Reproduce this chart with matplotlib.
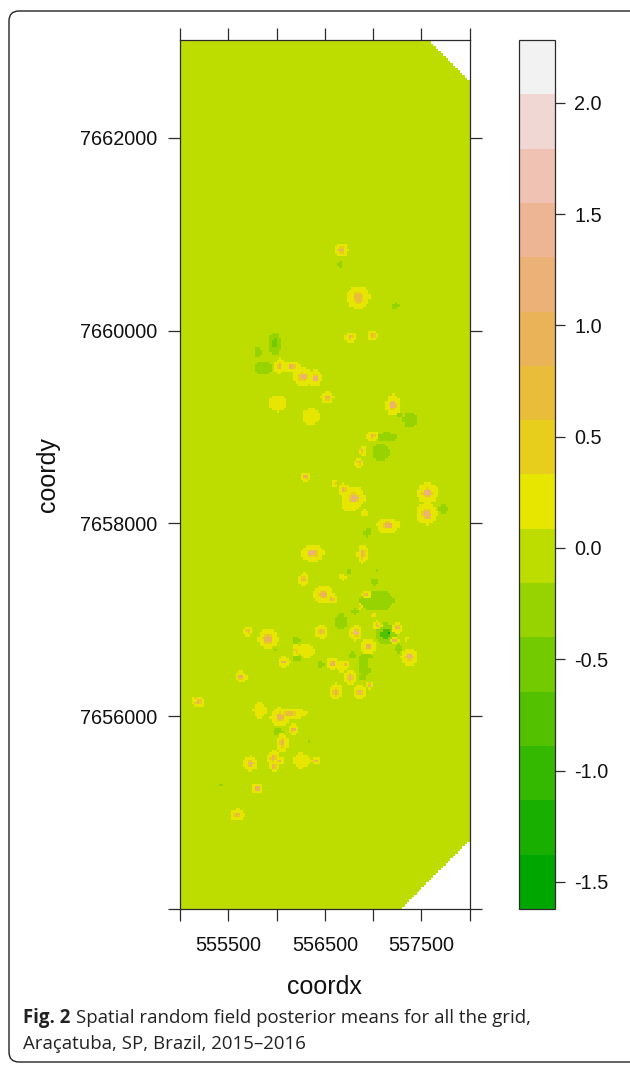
# -*- coding: utf-8 -*-
import numpy as np
import matplotlib
matplotlib.use('Agg')
import matplotlib.pyplot as plt
from matplotlib.colors import ListedColormap, BoundaryNorm
from matplotlib.patches import FancyBboxPatch

#%% ## Datos
x_ticks = [555000, 555500, 556000, 556500, 557000, 557500, 558000]
x_labels = ['', '555500', '', '556500', '', '557500', '']
y_ticks = [7654000, 7656000, 7658000, 7660000, 7662000]
y_labels = ['', '7656000', '7658000', '7660000', '7662000']
bar_ticks = [-1.5, -1.0, -0.5, 0.0, 0.5, 1.0, 1.5, 2.0]

# terrain colours, one for each band of the scale
band_edges = [-1.622, -1.378, -1.134, -0.890, -0.646, -0.402, -0.158, 0.086, 0.330,
              0.574, 0.818, 1.062, 1.306, 1.550, 1.794, 2.038, 2.282]
band_colors = ['#00A600', '#19AF00', '#35B800', '#53C100', '#73CA00', '#97D300', '#BDDC00', '#E6E600',
               '#E7CE1D', '#E9BD3A', '#EAB358', '#ECB176', '#EDB594', '#EFC2B3', '#F1D7D3', '#F2F2F2']

# corners cut off the grid
cut_top = [557578, 7663000, 558000, 7662582]
cut_bottom = [557298, 7654000, 558000, 7654714]

# patches of the field: centre, half widths, peak
blob_x = [556670, 556656, 556846, 557236, 556766, 556994, 555983, 555804, 555862, 556032,
          556156, 556270, 556397, 556014, 556359, 556525, 557208, 557380, 557284, 556991,
          557139, 557080, 556894, 556856, 556304, 556604, 556694, 556801, 556760, 556908,
          557563, 557553, 557726, 557156, 556942, 556373, 556891, 556746, 556680, 556277,
          557036, 557011, 556484, 556570, 557036, 556932, 556873, 556994, 556811, 556663,
          555707, 555911, 556466, 556818, 556818, 557042, 557249, 557132, 557160, 557225,
          557346, 556949, 557260, 557374, 556204, 556311, 556204, 556204, 555983, 556076,
          556452, 556784, 556898, 556949, 556880, 556932, 556580, 556666, 556718, 556763,
          556615, 556863, 556960, 555631, 555190, 555155, 555831, 556035, 556139, 556259,
          556173, 556018, 556059, 556339, 555966, 556035, 555973, 555728, 556256, 556404,
          555800, 555424, 555593]
blob_y = [7660839, 7660694, 7660342, 7660256, 7659931, 7659952, 7659866, 7659776, 7659610, 7659634,
          7659624, 7659520, 7659507, 7659248, 7659110, 7659306, 7659227, 7659075, 7659123, 7658906,
          7658892, 7658737, 7658754, 7658626, 7658485, 7658419, 7658354, 7658271, 7658185, 7658105,
          7658316, 7658098, 7658147, 7657977, 7657908, 7657691, 7657684, 7657504, 7657442, 7657418,
          7657518, 7657397, 7657263, 7657218, 7657200, 7657263, 7657138, 7657052, 7657090, 7656983,
          7656883, 7656804, 7656876, 7656866, 7656866, 7656942, 7656917, 7656855, 7656862, 7656786,
          7656804, 7656724, 7656700, 7656614, 7656683, 7656676, 7656786, 7656603, 7656683, 7656562,
          7656545, 7656631, 7656545, 7656621, 7656400, 7656476, 7656545, 7656517, 7656538, 7656400,
          7656251, 7656248, 7656320, 7656407, 7656148, 7656182, 7656061, 7655992, 7656027, 7656034,
          7655861, 7655837, 7655723, 7655747, 7655571, 7655537, 7655475, 7655509, 7655537, 7655537,
          7655250, 7655295, 7654977]
blob_rx = [62, 17, 104, 28, 52, 45, 59, 35, 86, 48,
           86, 86, 62, 86, 79, 55, 69, 62, 24, 52,
           97, 76, 35, 41, 45, 28, 48, 104, 76, 35,
           97, 97, 41, 104, 28, 104, 48, 28, 35, 41,
           17, 35, 90, 48, 155, 41, 24, 21, 24, 52,
           45, 90, 59, 59, 16, 41, 48, 97, 24, 35,
           17, 69, 35, 76, 35, 69, 35, 35, 17, 55,
           35, 41, 52, 52, 35, 35, 52, 48, 28, 59,
           59, 59, 31, 55, 55, 21, 62, 86, 121, 48,
           48, 48, 52, 10, 55, 41, 48, 69, 76, 41,
           55, 17, 69]
blob_ry = [59, 31, 104, 28, 45, 52, 104, 41, 59, 69,
           52, 83, 76, 76, 76, 59, 97, 76, 28, 45,
           41, 86, 41, 38, 45, 35, 52, 97, 52, 31,
           93, 97, 45, 69, 45, 76, 90, 28, 28, 62,
           10, 35, 76, 45, 97, 41, 24, 28, 28, 76,
           45, 90, 59, 69, 16, 41, 52, 97, 28, 35,
           17, 69, 35, 76, 52, 69, 35, 28, 17, 45,
           31, 28, 97, 17, 31, 35, 59, 55, 35, 76,
           76, 62, 35, 52, 52, 21, 69, 86, 52, 28,
           48, 35, 86, 10, 62, 41, 41, 69, 69, 41,
           55, 10, 55]
blob_peak = [1.0, -0.3, 0.6, -0.3, 0.9, 0.8, -0.5, -0.3, -0.3, 1.0,
             1.0, 1.2, 1.1, 0.2, 0.2, 1.0, 1.1, -0.3, -0.3, 1.0,
             -0.3, -0.3, 1.0, 0.9, 1.0, 0.7, 1.0, 1.2, 0.2, 0.2,
             1.2, 1.1, -0.3, 1.0, -0.3, 1.1, 0.9, -0.3, 0.2, 0.8,
             -0.3, -0.3, 0.9, 0.9, -0.4, 0.9, 0.7, 0.7, -0.3, -0.4,
             0.8, 1.0, 1.0, 1.4, 2.2, 1.0, 1.0, -0.7, -1.4, 0.9,
             0.2, 1.0, -0.3, 1.1, 0.5, 0.2, -0.3, -0.3, -0.3, 0.9,
             -0.3, -0.3, -0.4, -0.3, -0.4, -0.4, 1.0, 0.25, 0.8, 1.1,
             1.0, 1.1, 0.9, 0.9, 0.9, 0.5, 0.2, 1.0, 0.8, 0.2,
             1.0, -0.4, 0.9, -0.3, 1.0, 1.0, 0.9, 1.1, 0.2, 0.9,
             0.9, -0.3, 0.8]

#%% ## Malla de valores
grid_x = np.arange(555000, 558000.1, 25)
grid_y = np.arange(7654000, 7663025.1, 25)
xc = (grid_x[:-1] + grid_x[1:]) / 2
yc = (grid_y[:-1] + grid_y[1:]) / 2
xx, yy = np.meshgrid(xc, yc)

high = np.zeros(xx.shape)
low = np.zeros(xx.shape)
for bx, by, rx, ry, peak in zip(blob_x, blob_y, blob_rx, blob_ry, blob_peak):
    r = np.sqrt(((xx - bx) / rx) ** 2 + ((yy - by) / ry) ** 2)
    if peak > 0:
        # borde amarillo, anillo dorado delgado y centro
        v = np.where(r < 0.38, peak, np.where(r < 0.55, min(peak, 0.45), 0.2))
        high = np.where(r <= 1.15, np.maximum(high, v), high)
    else:
        v = np.where(r < 0.5, peak, max(peak, -0.3))
        low = np.where(r <= 1.15, np.minimum(low, v), low)
field = np.where(high > 0, high, low)

# las esquinas sin datos quedan blancas
slope_t = (cut_top[3] - cut_top[1]) / (cut_top[2] - cut_top[0])
slope_b = (cut_bottom[3] - cut_bottom[1]) / (cut_bottom[2] - cut_bottom[0])
outside = (yy > cut_top[1] + slope_t * (xx - cut_top[0])) | (yy < cut_bottom[1] + slope_b * (xx - cut_bottom[0]))
field = np.ma.masked_where(outside, field)

cmap = ListedColormap(band_colors)
norm = BoundaryNorm(band_edges, cmap.N)

#%% ## Figura
plt.rcParams['font.family'] = ['Liberation Sans', 'DejaVu Sans']
W, H = 630, 1065
fig = plt.figure(figsize=(W / 100, H / 100), dpi=100)
frame = '#2b2b2b'

# caja redondeada de la figura
back = fig.add_axes([0, 0, 1, 1])
back.set_xlim(0, W)
back.set_ylim(H, 0)
back.axis('off')
back.add_patch(FancyBboxPatch((9, 11), 640, 1051, boxstyle='round,pad=0,rounding_size=10',
                              fc='white', ec='#222222', lw=1.0, clip_on=True))

ax = fig.add_axes([180 / W, 1 - 909 / H, 289.7 / W, 869 / H])
ax.pcolormesh(grid_x, grid_y, field, cmap=cmap, norm=norm, shading='flat')
ax.set_xlim(555000, 558000)
ax.set_ylim(7654000, 7663015)
for s in ax.spines.values():
    s.set_linewidth(0.9)
    s.set_color(frame)

ax.set_xticks(x_ticks, x_labels)
ax.set_yticks(y_ticks, y_labels)
ax.tick_params(axis='both', direction='out', length=8.6, width=0.9, color=frame,
               labelsize=14.3, top=True, right=True, pad=8, labelcolor='#111111')
ax.tick_params(axis='x', pad=10.5)
ax.set_xlabel('coordx', fontsize=18, labelpad=14.5, color='#111111')
ax.set_ylabel('coordy', fontsize=18, labelpad=14, color='#111111')

# barra de color
cax = fig.add_axes([519 / W, 1 - 909 / H, 36 / W, 869 / H])
cb = fig.colorbar(plt.cm.ScalarMappable(norm=norm, cmap=cmap), cax=cax, ticks=bar_ticks, spacing='proportional')
cb.ax.set_yticklabels([f'{t:.1f}' for t in bar_ticks])
cb.ax.minorticks_off()
cb.ax.tick_params(direction='out', length=7, width=0.9, color=frame, labelsize=14.3, pad=7, labelcolor='#111111')
cb.outline.set_linewidth(0.9)
cb.outline.set_edgecolor(frame)

# pie de figura
cap = {'fontsize': 13.45, 'color': '#222222', 'va': 'center'}
fig.text(23 / W, 1 - 1018 / H, 'Fig. 2', family='Open Sans', fontweight='bold', **cap)
fig.text(76 / W, 1 - 1018 / H, 'Spatial random field posterior means for all the grid,', family='Open Sans', **cap)
fig.text(23 / W, 1 - 1044 / H, 'Araçatuba, SP, Brazil, 2015–2016', family='Open Sans', **cap)

plt.savefig('out.png', dpi=100)
